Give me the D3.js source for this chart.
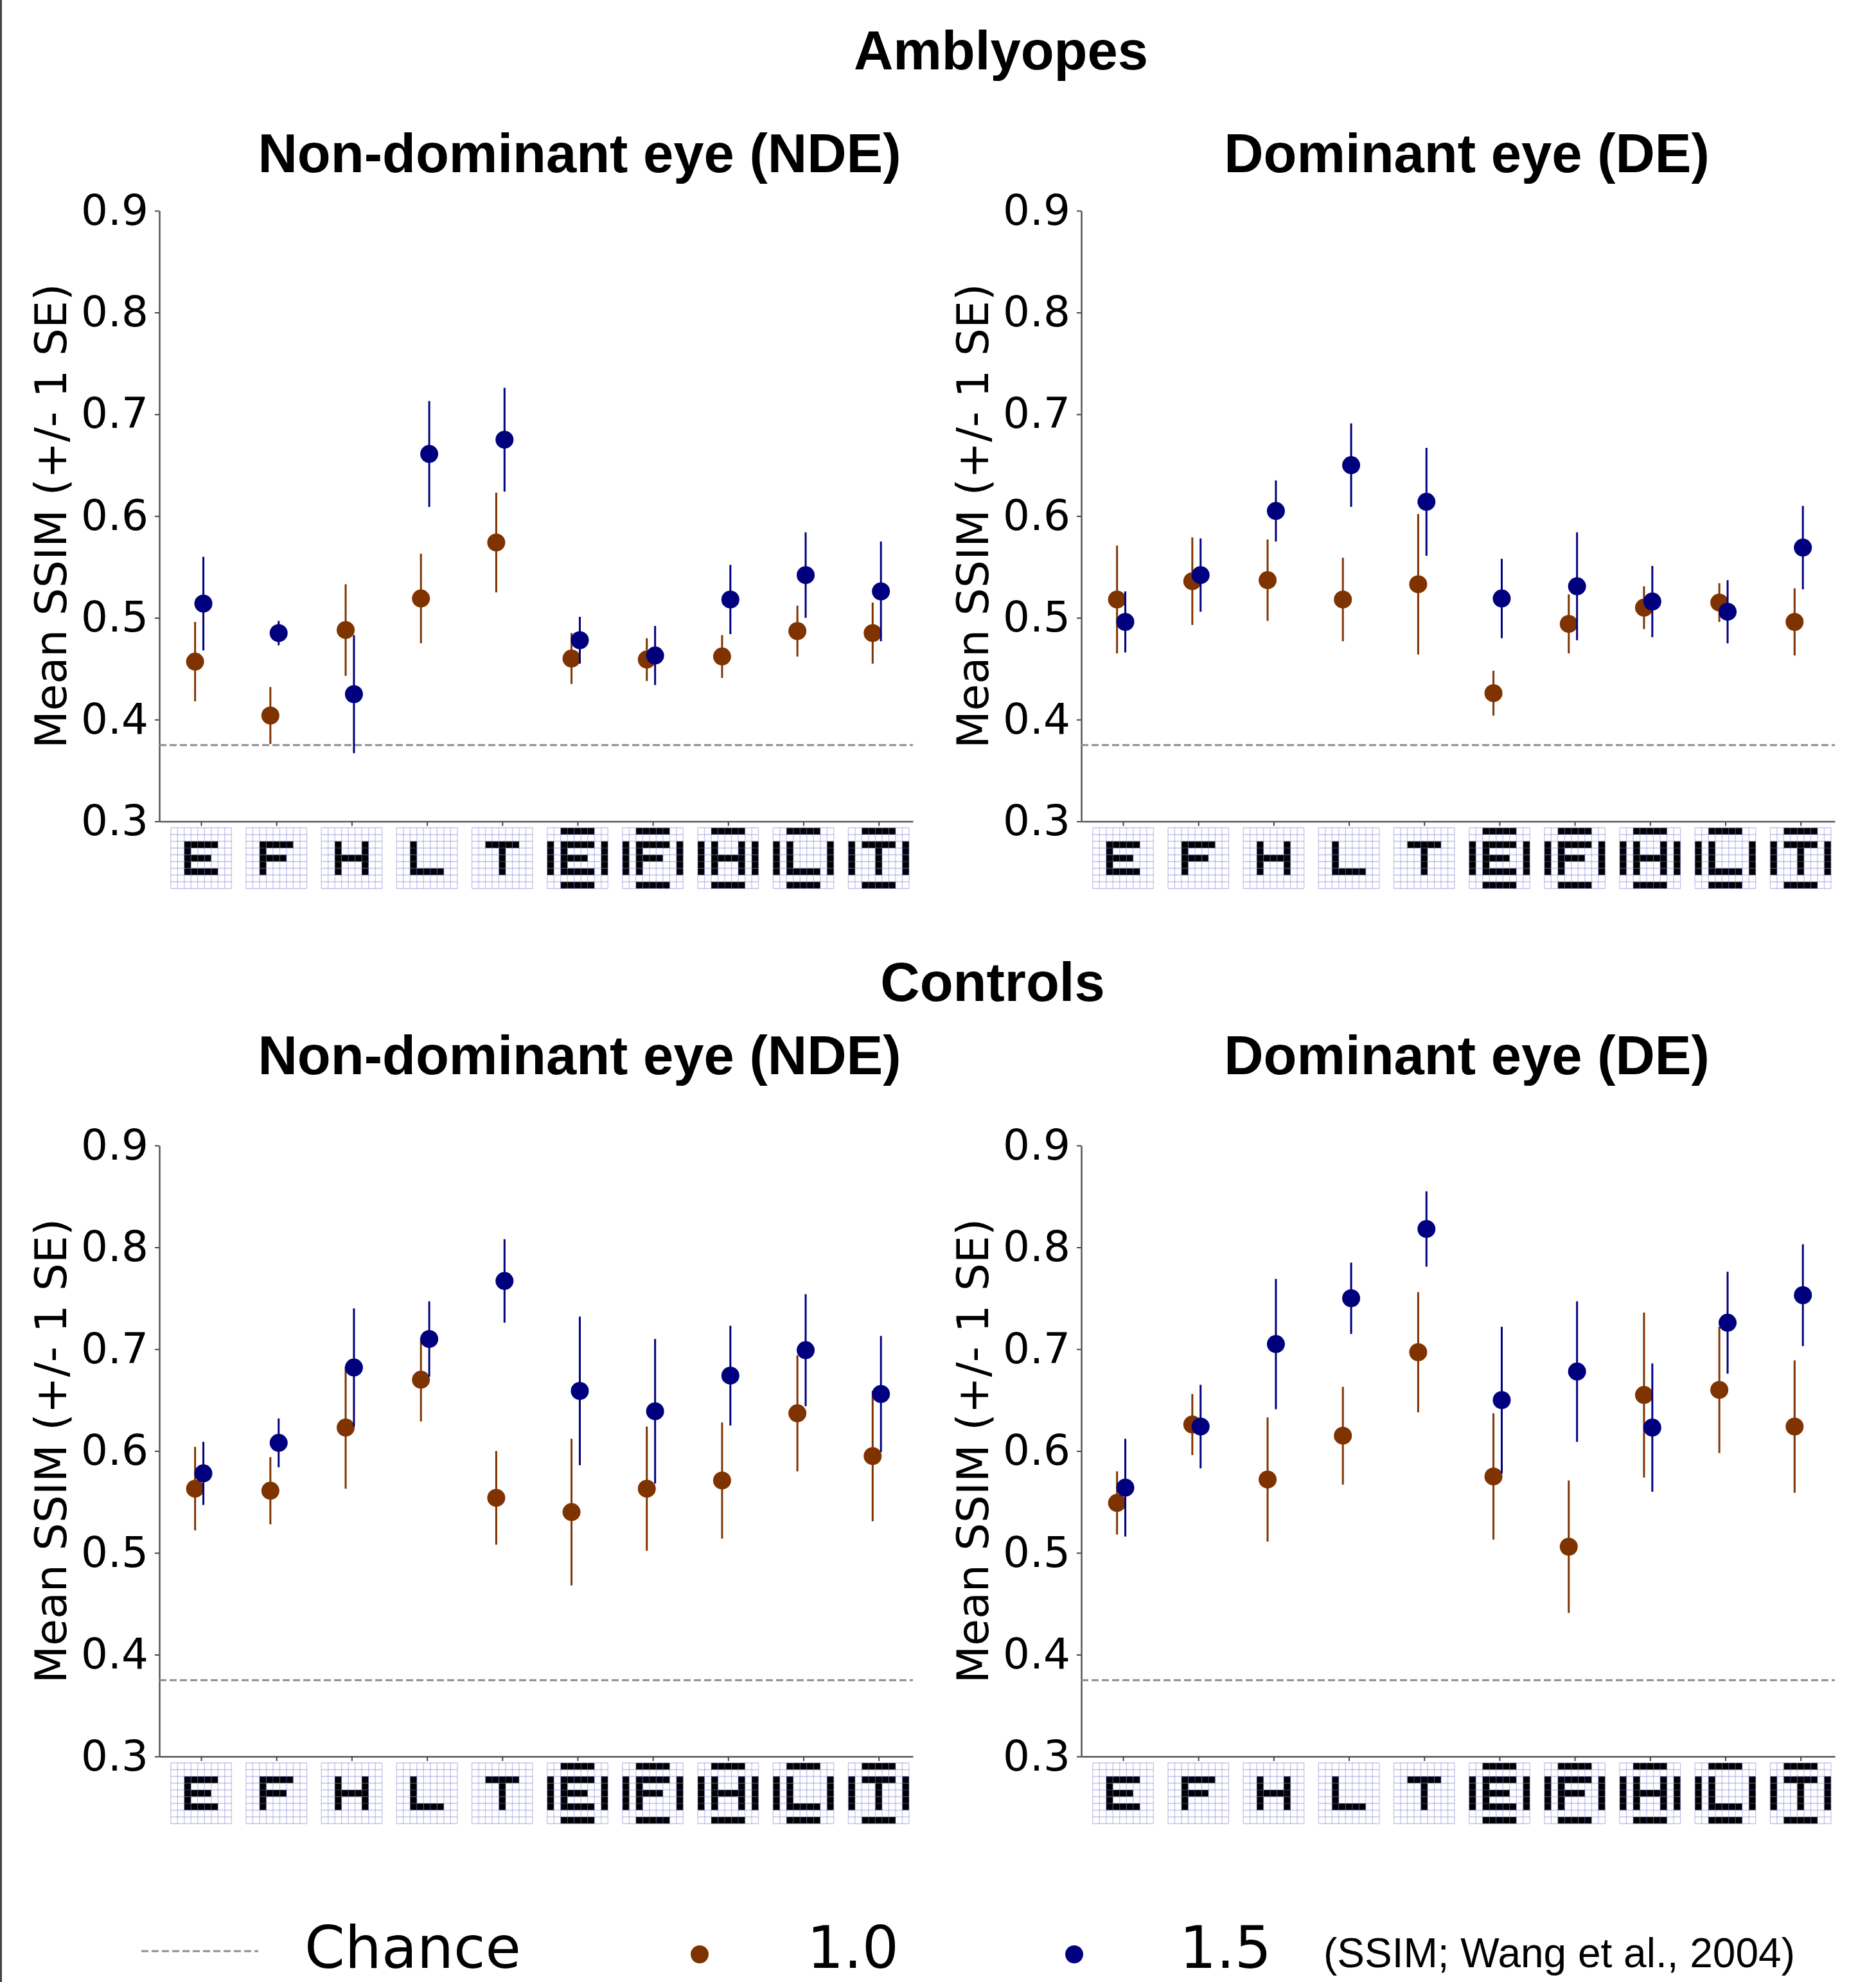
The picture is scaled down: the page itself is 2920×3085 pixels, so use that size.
<!DOCTYPE html>
<html><head><meta charset="utf-8">
<script src="https://cdn.jsdelivr.net/npm/d3@7"></script>
<style>html,body{margin:0;padding:0;background:#fff;} svg{display:block;}</style>
</head><body>
<script>
// ---------------- DATA ----------------
const categories = ["E","F","H","L","T","IEI","IFI","IHI","ILI","ITI"];
const letters    = ["E","F","H","L","T","E","F","H","L","T"];
const flanked    = [false,false,false,false,false,true,true,true,true,true];
const yTicks     = [0.3,0.4,0.5,0.6,0.7,0.8,0.9];
const chanceLevel = 0.375;
const seriesNames = ["1.0","1.5"];
const groupTitles = ["Amblyopes","Controls"];
const eyeTitles   = ["Non-dominant eye (NDE)","Dominant eye (DE)"];
const yLabel = "Mean SSIM (+/- 1 SE)";
const citation = "(SSIM; Wang et al., 2004)";

// Amblyopes, non-dominant eye
const ambNde10Mean = [0.457,0.404,0.488,0.519,0.574,0.460,0.459,0.462,0.487,0.485];
const ambNde10Se   = [0.039,0.028,0.045,0.044,0.049,0.025,0.021,0.021,0.025,0.030];
const ambNde15Mean = [0.514,0.485,0.425,0.661,0.675,0.478,0.463,0.518,0.542,0.526];
const ambNde15Se   = [0.046,0.012,0.058,0.052,0.051,0.023,0.029,0.034,0.042,0.049];
// Amblyopes, dominant eye
const ambDe10Mean = [0.518,0.536,0.537,0.518,0.533,0.426,0.494,0.510,0.515,0.496];
const ambDe10Se   = [0.053,0.043,0.040,0.041,0.069,0.022,0.029,0.021,0.019,0.033];
const ambDe15Mean = [0.496,0.542,0.605,0.650,0.614,0.519,0.531,0.516,0.506,0.569];
const ambDe15Se   = [0.030,0.036,0.030,0.041,0.053,0.039,0.053,0.035,0.031,0.041];
// Controls, non-dominant eye
const ctlNde10Mean = [0.563,0.561,0.623,0.670,0.554,0.540,0.563,0.571,0.637,0.595];
const ctlNde10Se   = [0.041,0.033,0.060,0.041,0.046,0.072,0.061,0.057,0.057,0.064];
const ctlNde15Mean = [0.578,0.608,0.682,0.710,0.767,0.659,0.639,0.674,0.699,0.656];
const ctlNde15Se   = [0.031,0.024,0.058,0.037,0.041,0.073,0.071,0.049,0.055,0.057];
// Controls, dominant eye
const ctlDe10Mean = [0.549,0.626,0.572,0.615,0.697,0.575,0.506,0.655,0.660,0.624];
const ctlDe10Se   = [0.031,0.030,0.061,0.048,0.059,0.062,0.065,0.081,0.062,0.065];
const ctlDe15Mean = [0.564,0.624,0.705,0.750,0.818,0.650,0.678,0.623,0.726,0.753];
const ctlDe15Se   = [0.048,0.041,0.064,0.035,0.037,0.072,0.069,0.063,0.050,0.050];

// 5x5 letter shapes used for the x-axis tick images
const glyphs = {
  E:["#####","#....","####.","#....","#####"],
  F:["#####","#....","####.","#....","#...."],
  H:["#...#","#...#","#####","#...#","#...#"],
  L:["#....","#....","#....","#....","#####"],
  T:["#####","..#..","..#..","..#..","..#.."]
};

// ---------------- LAYOUT / STYLE ----------------
const W = 2920, H = 3085;
const colors = ["#7f3300","#00007f"];
const dodge = [-0.08, 0.03];
const panelX = [[248,1421],[1683,2856]];
const panelY = [[328,1278.5],[1783,2734]];
const subTitleX = [902, 2283];
const subTitleY = [268, 1672];
const groupTitleX = [1558, 1545];
const groupTitleY = [108, 1558];
const cell = 10.5;

const panels = [
  {g:0,e:0,m:[ambNde10Mean,ambNde15Mean],s:[ambNde10Se,ambNde15Se]},
  {g:0,e:1,m:[ambDe10Mean,ambDe15Mean],s:[ambDe10Se,ambDe15Se]},
  {g:1,e:0,m:[ctlNde10Mean,ctlNde15Mean],s:[ctlNde10Se,ctlNde15Se]},
  {g:1,e:1,m:[ctlDe10Mean,ctlDe15Mean],s:[ctlDe10Se,ctlDe15Se]}
];

const svg = d3.select("body").append("svg").attr("width",W).attr("height",H);
svg.append("rect").attr("width",W).attr("height",H).attr("fill","#fff");
// left frame line
svg.append("line").attr("x1",1.5).attr("x2",1.5).attr("y1",0).attr("y2",H)
  .attr("stroke","#444").attr("stroke-width",3);

// group titles
groupTitles.forEach((t,i)=>{
  svg.append("text").attr("x",groupTitleX[i]).attr("y",groupTitleY[i])
    .attr("text-anchor","middle").attr("font-family","Liberation Sans, Arial, sans-serif")
    .attr("font-weight","bold").attr("font-size",85).text(t);
});

function drawTile(g, cx, top, letter, flank){
  const size = cell*9;
  const t = g.append("g").attr("transform",`translate(${cx-size/2},${top})`);
  const cells = [];
  glyphs[letter].forEach((row,r)=>{
    row.split("").forEach((c,k)=>{ if(c==="#") cells.push([k+2,r+2]); });
  });
  if(flank){
    for(let k=2;k<=6;k++){ cells.push([k,0]); cells.push([k,8]); }
    for(let r=2;r<=6;r++){ cells.push([0,r]); cells.push([8,r]); }
  }
  t.selectAll("rect.c").data(cells).join("rect")
    .attr("x",d=>d[0]*cell).attr("y",d=>d[1]*cell)
    .attr("width",cell).attr("height",cell).attr("fill","#000");
  const lines = d3.range(10);
  t.selectAll("line.v").data(lines).join("line")
    .attr("x1",d=>d*cell).attr("x2",d=>d*cell).attr("y1",0).attr("y2",size)
    .attr("stroke","#6a6ad0").attr("stroke-opacity",0.4).attr("stroke-width",1.3);
  t.selectAll("line.h").data(lines).join("line")
    .attr("y1",d=>d*cell).attr("y2",d=>d*cell).attr("x1",0).attr("x2",size)
    .attr("stroke","#6a6ad0").attr("stroke-opacity",0.4).attr("stroke-width",1.3);
}

panels.forEach(p=>{
  const [x0,x1] = panelX[p.e];
  const [y0,y1] = panelY[p.g];
  const x = d3.scaleLinear().domain([-0.555, 9.455]).range([x0,x1]);
  const y = d3.scaleLinear().domain([0.3,0.9]).range([y1,y0]);
  const g = svg.append("g");

  // subtitle
  g.append("text").attr("x",subTitleX[p.e]).attr("y",subTitleY[p.g])
    .attr("text-anchor","middle").attr("font-family","Liberation Sans, Arial, sans-serif")
    .attr("font-weight","bold").attr("font-size",85).text(eyeTitles[p.e]);

  // y axis
  const ya = g.append("g").attr("transform",`translate(${x0},0)`)
    .call(d3.axisLeft(y).tickValues(yTicks).tickFormat(d3.format(".1f")).tickSize(7).tickSizeOuter(0).tickPadding(10));
  ya.select(".domain").attr("stroke","#555").attr("stroke-width",2.5);
  ya.selectAll(".tick line").attr("stroke","#444").attr("stroke-width",2);
  ya.selectAll(".tick text").attr("font-family","DejaVu Sans, sans-serif").attr("font-size",66).attr("fill","#000");

  // x axis
  const xa = g.append("g").attr("transform",`translate(0,${y1})`)
    .call(d3.axisBottom(x).tickValues(d3.range(categories.length)).tickFormat("").tickSize(7).tickSizeOuter(0));
  xa.select(".domain").attr("stroke","#555").attr("stroke-width",2.5);
  xa.selectAll(".tick line").attr("stroke","#444").attr("stroke-width",2);

  categories.forEach((c,i)=>{
    const tg = g.append("g"); tg.append("title").text(c);
    drawTile(tg, x(i), y1+10, letters[i], flanked[i]);
  });

  // y label
  g.append("text").attr("transform",`translate(${x0-145},${(y0+y1)/2}) rotate(-90)`)
    .attr("text-anchor","middle").attr("font-family","DejaVu Sans, sans-serif")
    .attr("font-size",68).text(yLabel);

  // chance line
  g.append("line").attr("x1",x0).attr("x2",x1).attr("y1",y(chanceLevel)).attr("y2",y(chanceLevel))
    .attr("stroke","#8c8c8c").attr("stroke-width",3).attr("stroke-dasharray","11,5");

  // series
  [0,1].forEach(si=>{
    const sg = g.append("g");
    const data = p.m[si].map((m,i)=>({i,m,s:p.s[si][i]}));
    sg.selectAll("line.err").data(data).join("line")
      .attr("x1",d=>x(d.i+dodge[si])).attr("x2",d=>x(d.i+dodge[si]))
      .attr("y1",d=>y(d.m-d.s)).attr("y2",d=>y(d.m+d.s))
      .attr("stroke",colors[si]).attr("stroke-width",3);
    sg.selectAll("circle").data(data).join("circle")
      .attr("cx",d=>x(d.i+dodge[si])).attr("cy",d=>y(d.m)).attr("r",14)
      .attr("fill",colors[si]);
  });
});

// legend
const lg = svg.append("g");
lg.append("line").attr("x1",220).attr("x2",402).attr("y1",3037).attr("y2",3037)
  .attr("stroke","#8c8c8c").attr("stroke-width",3).attr("stroke-dasharray","11,5");
lg.append("text").attr("x",474).attr("y",3063).attr("font-family","DejaVu Sans, sans-serif")
  .attr("font-size",90).text("Chance");
const legDotX = [1089,1672], legTextX = [1256,1836];
seriesNames.forEach((n,i)=>{
  lg.append("circle").attr("cx",legDotX[i]).attr("cy",3042).attr("r",14).attr("fill",colors[i]);
  lg.append("text").attr("x",legTextX[i]).attr("y",3063).attr("font-family","DejaVu Sans, sans-serif")
    .attr("font-size",90).text(n);
});
lg.append("text").attr("x",2060).attr("y",3062).attr("font-family","Liberation Sans, Arial, sans-serif")
  .attr("font-size",64).text(citation);
</script>
</body></html>
